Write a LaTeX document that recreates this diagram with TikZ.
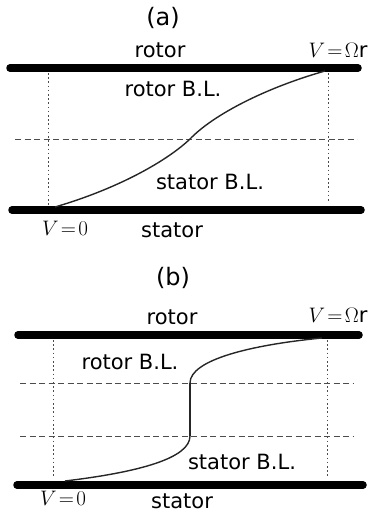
\RequirePackage{fix-cm}
\documentclass[tikz,border=0pt]{standalone}
\usepackage{fontspec}
\setmainfont{DejaVu Sans}
\begin{document}
\begin{tikzpicture}[x=1pt,y=-1pt,
  bar/.style={line width=7.5pt,line cap=round},
  guide/.style={dash pattern=on 1.6pt off 2.6pt,gray!60!black,line width=1pt},
  level/.style={dash pattern=on 6pt off 3.5pt,gray!60!black,line width=0.8pt},
  profile/.style={line width=1.4pt,black!85},
  lbl/.style={font=\fontsize{21}{24}\selectfont,inner sep=0pt},
  ttl/.style={font=\fontsize{24}{28}\selectfont,inner sep=0pt},
  mlbl/.style={font=\fontsize{21}{24}\selectfont,inner sep=0pt}]
\useasboundingbox (0,0) rectangle (370,514);
% ---------- panel (a) ----------
\node[ttl] (ta) at (163,18) {(a)};
\node[lbl] (rotA) at (160,50) {rotor};
\node[mlbl] (vrA) at (338,50) {$V\!=\!\Omega\mathrm{r}$};
\coordinate (rAl) at (10,68); \coordinate (rAr) at (358,68);
\coordinate (sAl) at (12,210); \coordinate (sAr) at (361,210);
\draw[guide] (48,73) -- (48,205);
\draw[guide] (328,73) -- (328,203);
\coordinate (dAl) at (15,139); \coordinate (dAr) at (357,139);
\draw[level] (dAl) -- (dAr);
\draw[bar] (rAl) -- (rAr);
\draw[bar] (sAl) -- (sAr);
\coordinate (cA0) at (55,207); \coordinate (cAm) at (190,139); \coordinate (cA1) at (325,71);
\draw[profile] (cA0) .. controls (120,188) and (168,160) .. (cAm)
  .. controls (213,115) and (265,88) .. (cA1);
\node[lbl] (rblA) at (173,89) {rotor B.L.};
\node[lbl] (sblA) at (210,182) {stator B.L.};
\node[mlbl] (v0A) at (65,228) {$V\!=\!0$};
\node[lbl] (statA) at (172,230) {stator};
% ---------- panel (b) ----------
\node[ttl] (tb) at (173,278) {(b)};
\node[lbl] (rotB) at (172,317) {rotor};
\node[mlbl] (vrB) at (338,315) {$V\!=\!\Omega\mathrm{r}$};
\coordinate (rBl) at (18,335); \coordinate (rBr) at (359,335);
\coordinate (sBl) at (17,485); \coordinate (sBr) at (363,485);
\draw[guide] (53,340) -- (53,477);
\draw[guide] (327,340) -- (327,477);
\coordinate (dB1l) at (20,383); \coordinate (dB1r) at (353,383);
\coordinate (dB2l) at (20,436); \coordinate (dB2r) at (353,436);
\draw[level] (dB1l) -- (dB1r);
\draw[level] (dB2l) -- (dB2r);
\draw[bar] (rBl) -- (rBr);
\draw[bar] (sBl) -- (sBr);
\coordinate (cB0) at (65,481); \coordinate (cBa) at (190,436);
\coordinate (cBb) at (190,383); \coordinate (cB1) at (322,338);
\draw[profile] (cB0) .. controls (140,472) and (190,458) .. (cBa);
\draw[line width=2.4pt,black!85] (cBa) -- (cBb);
\draw[profile] (cBb) .. controls (190,360) and (250,345) .. (cB1);
\node[lbl] (rblB) at (130,362) {rotor B.L.};
\node[lbl] (sblB) at (242,462) {stator B.L.};
\node[mlbl] (v0B) at (63,498) {$V\!=\!0$};
\node[lbl] (statB) at (182,501.5) {stator};
\end{tikzpicture}
\end{document}
